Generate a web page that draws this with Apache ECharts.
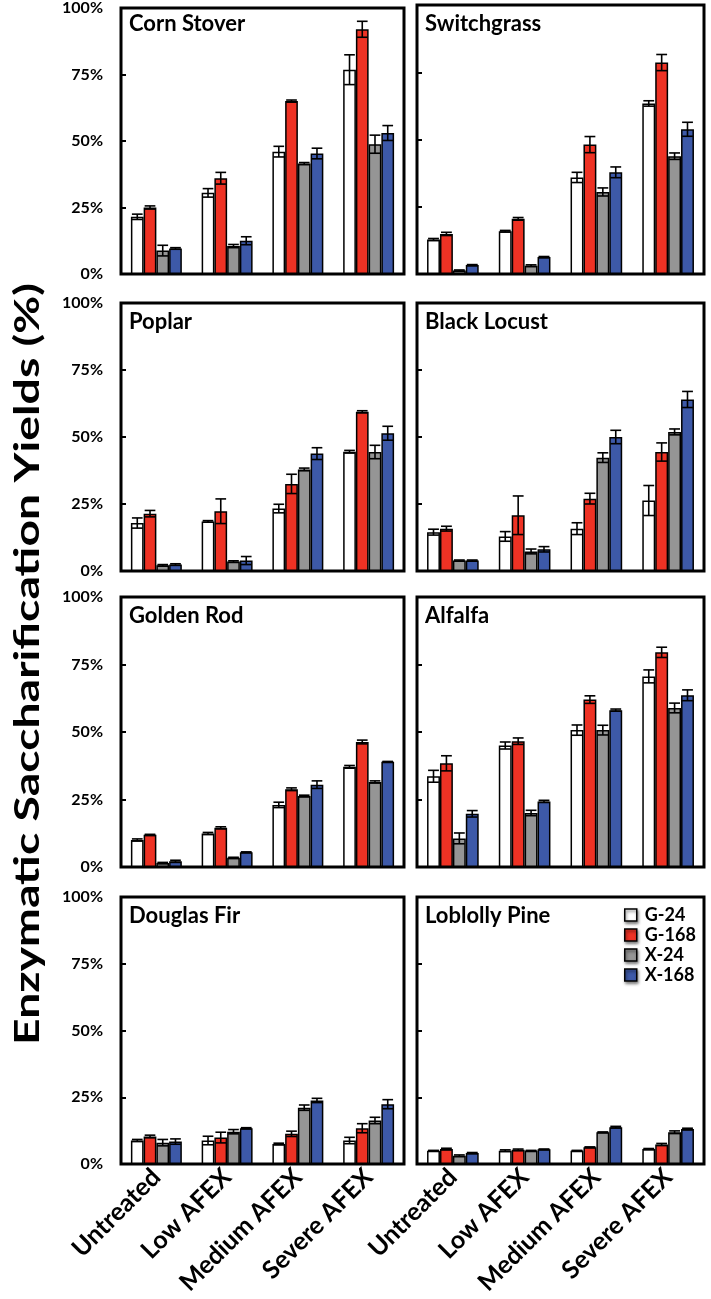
<!DOCTYPE html>
<html>
<head>
<meta charset="utf-8">
<script src="https://cdn.jsdelivr.net/npm/echarts@6/dist/echarts.min.js"></script>
<style>
html,body{margin:0;padding:0;background:#fff;}
#chart{width:711px;height:1299px;}
</style>
</head>
<body>
<div id="chart"></div>
<script>
// ---------- DATA ----------
const categories = ['Untreated', 'Low AFEX', 'Medium AFEX', 'Severe AFEX'];
const seriesNames = ['G-24', 'G-168', 'X-24', 'X-168'];
const panelNames = ['Corn Stover', 'Switchgrass', 'Poplar', 'Black Locust', 'Golden Rod', 'Alfalfa', 'Douglas Fir', 'Loblolly Pine'];
const yTickValues = [0, 25, 50, 75, 100];
const yTitle = 'Enzymatic Saccharification Yields (%)';

// rows: G-24, G-168, X-24, X-168 ; columns: categories
const cornStoverMean = [[21.5, 30.5, 46, 76.8], [25, 36, 65, 92], [8.8, 10.5, 41.5, 48.8], [9.6, 12.5, 45.3, 53]];
const cornStoverErr  = [[1, 1.6, 2, 5.6], [0.6, 2.2, 0.4, 3], [2, 0.6, 0.4, 3.4], [0.3, 1.5, 2, 2.8]];

const switchgrassMean = [[12.8, 15.9, 35.9, 63.4], [14.9, 20.5, 48.1, 78.6], [1.3, 3.1, 30.5, 43.8], [3.3, 6.3, 37.8, 53.8]];
const switchgrassErr  = [[0.4, 0.3, 1.9, 1], [0.6, 0.5, 3, 3], [0.2, 0.3, 1.5, 1.2], [0.2, 0.2, 2, 2.6]];

const poplarMean = [[17.9, 18.5, 23.3, 44.5], [21.4, 22.3, 32.5, 59.4], [2.1, 3.5, 37.9, 44.4], [2.4, 3.9, 43.8, 51.4]];
const poplarErr  = [[1.9, 0.3, 1.6, 0.5], [1.2, 4.6, 3.6, 0.4], [0.3, 0.3, 0.5, 2.5], [0.3, 1.5, 2.2, 2.6]];

const blackLocustMean = [[14.5, 12.9, 15.8, 26.3], [15.8, 20.8, 27, 44.4], [3.9, 7.3, 42.3, 51.9], [3.9, 8.1, 50, 64]];
const blackLocustErr  = [[1.1, 1.8, 2.2, 5.6], [0.9, 7.2, 2, 3.4], [0.2, 0.9, 1.8, 1.1], [0.2, 1, 2.5, 3]];

const goldenRodMean = [[10, 12.4, 23, 37.1], [11.9, 14.5, 28.8, 46.3], [1.5, 3.4, 26.3, 31.5], [2.1, 5.5, 30.5, 39]];
const goldenRodErr  = [[0.4, 0.4, 1, 0.5], [0.2, 0.4, 0.5, 0.7], [0.2, 0.2, 0.3, 0.4], [0.4, 0.1, 1.4, 0.1]];

const alfalfaMean = [[33.6, 45, 50.7, 70.6], [38.4, 46.6, 62, 79.5], [10.6, 20, 50.7, 58.9], [19.7, 24.3, 58.1, 63.6]];
const alfalfaErr  = [[2.2, 1.3, 1.9, 2.4], [2.8, 1.2, 1.4, 1.9], [2, 1, 1.8, 1.8], [1.2, 0.4, 0.4, 2]];

const douglasFirMean = [[8.8, 8.8, 7.5, 8.8], [10.3, 9.9, 11.3, 13.4], [8, 12.1, 21.1, 16.3], [8.4, 13.4, 23.8, 22.4]];
const douglasFirErr  = [[0.4, 1.6, 0.3, 1.2], [0.5, 2, 1, 1.7], [1.2, 0.8, 1, 1.2], [1, 0.2, 0.8, 1.7]];

const loblollyPineMean = [[5, 5, 5, 5.6], [5.6, 5.3, 6.3, 7.3], [3.1, 5, 11.9, 11.9], [4.1, 5.5, 13.8, 13.1]];
const loblollyPineErr  = [[0.1, 0.3, 0.1, 0.2], [0.3, 0.3, 0.1, 0.4], [0.3, 0.1, 0.1, 0.5], [0.2, 0.1, 0.3, 0.3]];

const panelMeans = [cornStoverMean, switchgrassMean, poplarMean, blackLocustMean, goldenRodMean, alfalfaMean, douglasFirMean, loblollyPineMean];
const panelErrs  = [cornStoverErr, switchgrassErr, poplarErr, blackLocustErr, goldenRodErr, alfalfaErr, douglasFirErr, loblollyPineErr];

// ---------- LAYOUT / STYLE ----------
const FONT = 'Lato';
const barColors = ['#ffffff', '#ee3224', '#959595', '#3d59a8'];
const colLeft = [121, 417];
const colWidth = [283, 287];
const rowTop = [5, 303, 597, 897];
const rowHeight = [269, 268, 270, 267];
const GAP = 0.28;

const grids = [], xAxes = [], yAxes = [], series = [], titles = [];
panelNames.forEach((name, p) => {
  const col = p % 2, row = Math.floor(p / 2);
  grids.push({
    left: colLeft[col], top: rowTop[row], width: colWidth[col], height: rowHeight[row],
    show: true, borderColor: '#000', borderWidth: 3, backgroundColor: 'transparent', containLabel: false
  });
  xAxes.push({
    type: 'category', gridIndex: p, data: categories,
    axisLine: { show: false }, axisTick: { show: false },
    axisLabel: {
      show: row === 3, rotate: 45, interval: 0, margin: 9,
      fontFamily: FONT, fontWeight: 'bold', fontSize: 25, color: '#000'
    }
  });
  yAxes.push({
    type: 'value', gridIndex: p, min: yTickValues[0], max: yTickValues[yTickValues.length - 1],
    interval: yTickValues[1] - yTickValues[0],
    axisLine: { show: false }, splitLine: { show: false },
    axisTick: { show: true, inside: true, length: 5, lineStyle: { color: '#000', width: 2 } },
    axisLabel: {
      show: col === 0, formatter: '{value}%', margin: 18,
      fontFamily: FONT, fontWeight: 'bold', fontSize: 16, color: '#000'
    }
  });
  titles.push({
    text: name, left: colLeft[col] + 8, top: rowTop[row] + 8, padding: 0,
    textStyle: { fontFamily: FONT, fontWeight: 'bold', fontSize: 22, color: '#000' }
  });
  seriesNames.forEach((sn, s) => {
    series.push({
      type: 'bar', name: sn, xAxisIndex: p, yAxisIndex: p,
      data: panelMeans[p][s],
      barGap: '0%', barCategoryGap: (GAP * 100) + '%',
      itemStyle: { color: barColors[s], borderColor: '#000', borderWidth: 1.5 },
      silent: true, animation: false, z: 2
    });
  });
  const errData = [];
  seriesNames.forEach((sn, s) => {
    categories.forEach((c, ci) => {
      errData.push([ci, s, panelMeans[p][s][ci], panelErrs[p][s][ci]]);
    });
  });
  series.push({
    type: 'custom', name: 'err' + p, xAxisIndex: p, yAxisIndex: p,
    encode: { x: 0, y: 2 }, data: errData, z: 5, silent: true, animation: false,
    renderItem: function (params, api) {
      const ci = api.value(0), s = api.value(1), v = api.value(2), e = api.value(3);
      const band = api.size([1, 0])[0];
      const groupW = band * (1 - GAP);
      const bw = groupW / 4;
      const c = api.coord([ci, v]);
      const x = c[0] - groupW / 2 + (s + 0.5) * bw;
      const yt = api.coord([ci, v + e])[1];
      const yb = api.coord([ci, Math.max(0, v - e)])[1];
      const hw = bw * 0.42;
      const st = { stroke: '#000', lineWidth: 1.6 };
      return {
        type: 'group', children: [
          { type: 'line', shape: { x1: x, y1: yt, x2: x, y2: yb }, style: st },
          { type: 'line', shape: { x1: x - hw, y1: yt, x2: x + hw, y2: yt }, style: st },
          { type: 'line', shape: { x1: x - hw, y1: yb, x2: x + hw, y2: yb }, style: st }
        ]
      };
    }
  });
});

// y-axis title, fitted to reference length
const TITLE_SIZE = 34;
const mctx = document.createElement('canvas').getContext('2d');
mctx.font = 'bold ' + TITLE_SIZE + 'px ' + FONT;
const titleW = mctx.measureText(yTitle).width;
const titleScale = 762 / titleW;

const option = {
  backgroundColor: '#fff',
  animation: false,
  textStyle: { fontFamily: FONT },
  title: titles,
  grid: grids,
  xAxis: xAxes,
  yAxis: yAxes,
  legend: {
    data: seriesNames.map(n => ({ name: n, icon: 'rect' })),
    orient: 'vertical', left: 619, top: 900,
    itemWidth: 12, itemHeight: 12, itemGap: 0,
    selectedMode: false,
    itemStyle: { borderColor: '#000', borderWidth: 1.5, shadowBlur: 3, shadowColor: 'rgba(0,0,0,0.5)', shadowOffsetX: 1, shadowOffsetY: 2 },
    textStyle: { fontFamily: FONT, fontWeight: 'bold', fontSize: 18, color: '#000', lineHeight: 20, padding: [0, 0, 0, 3] }
  },
  graphic: [{
    type: 'text', x: 28, y: 664, rotation: Math.PI / 2, scaleX: titleScale, scaleY: 1,
    style: {
      text: yTitle, font: 'bold ' + TITLE_SIZE + 'px ' + FONT, fill: '#000',
      textAlign: 'center', textVerticalAlign: 'middle'
    }
  }],
  series: series
};

const chart = echarts.init(document.getElementById('chart'), null, { renderer: 'canvas' });
chart.setOption(option);
</script>
</body>
</html>
